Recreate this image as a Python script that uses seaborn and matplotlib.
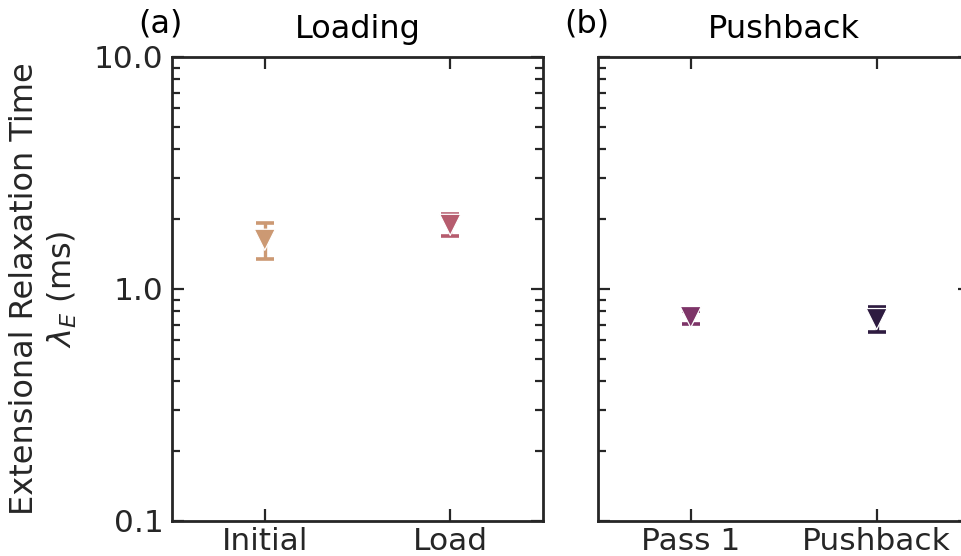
import matplotlib
matplotlib.use("Agg")
import matplotlib.pyplot as plt
import seaborn as sns
import pandas as pd
from matplotlib.ticker import LogLocator, FixedLocator, FixedFormatter, NullFormatter

# Data
loading_cats = ["Initial", "Load"]
loading_vals = [1.63, 1.89]
loading_lo = [1.35, 1.69]
loading_hi = [1.93, 2.10]
loading_colors = ["#cc9973", "#b65c6e"]

push_cats = ["Pass 1", "Pushback"]
push_vals = [0.757, 0.742]
push_lo = [0.706, 0.653]
push_hi = [0.800, 0.836]
push_colors = ["#7d3468", "#2e1b40"]

sns.set_style("ticks")
plt.rcParams["font.family"] = ["DejaVu Sans"]
plt.rcParams["mathtext.fontset"] = "dejavusans"

FS = 22.5
DARK = "#262626"

fig = plt.figure(figsize=(9.61, 5.56), dpi=100)
ax1 = fig.add_axes([0.179, 0.063, 0.386, 0.8345])
ax2 = fig.add_axes([0.622, 0.063, 0.387, 0.8345])


def draw(ax, cats, vals, lo, hi, colors):
    df = pd.DataFrame({"cat": cats, "val": vals})
    for c, v, l, h, col in zip(cats, vals, lo, hi, colors):
        ax.errorbar([c], [v], yerr=[[v - l], [h - v]], fmt="none", ecolor=col,
                    elinewidth=2.4, capsize=6.5, capthick=2.6, zorder=2)
    sns.scatterplot(data=df, x="cat", y="val", hue="cat", palette=colors,
                    marker="v", s=230, edgecolor="white", linewidth=0.9,
                    legend=False, ax=ax, zorder=3)
    ax.set_yscale("log")
    ax.set_ylim(0.1, 10)
    ax.set_xlim(-0.5, 1.5)
    ax.set_xlabel("")
    ax.set_ylabel("")
    for s in ax.spines.values():
        s.set_visible(True)
        s.set_linewidth(2)
        s.set_color(DARK)
    ax.yaxis.set_major_locator(FixedLocator([0.1, 1.0, 10.0]))
    ax.yaxis.set_major_formatter(FixedFormatter(["0.1", "1.0", "10.0"]))
    ax.yaxis.set_minor_locator(LogLocator(base=10, subs=range(2, 10)))
    ax.yaxis.set_minor_formatter(NullFormatter())
    ax.tick_params(axis="both", which="major", direction="in", length=8.5,
                   width=1.6, color=DARK, labelsize=FS, labelcolor=DARK,
                   top=True, right=True, pad=6)
    ax.tick_params(axis="y", which="minor", direction="in", length=5.5,
                   width=1.6, color=DARK, left=True, right=True)
    ax.tick_params(axis="x", which="minor", bottom=False, top=False)
    ax.tick_params(axis="x", which="major", pad=4)


draw(ax1, loading_cats, loading_vals, loading_lo, loading_hi, loading_colors)
draw(ax2, push_cats, push_vals, push_lo, push_hi, push_colors)
ax2.tick_params(axis="y", which="both", labelleft=False)

ax1.set_title("Loading", fontsize=23, color="black", pad=14)
ax2.set_title("Pushback", fontsize=23, color="black", pad=14)
ax1.text(-0.03, 1.038, "(a)", transform=ax1.transAxes, fontsize=23,
         ha="center", va="bottom", color="black")
ax2.text(-0.03, 1.038, "(b)", transform=ax2.transAxes, fontsize=23,
         ha="center", va="bottom", color="black")

ax1.set_ylabel("Extensional Relaxation Time\n$\\lambda_E$ (ms)", fontsize=23,
               color=DARK, labelpad=11)

fig.savefig("out.png", dpi=100)
